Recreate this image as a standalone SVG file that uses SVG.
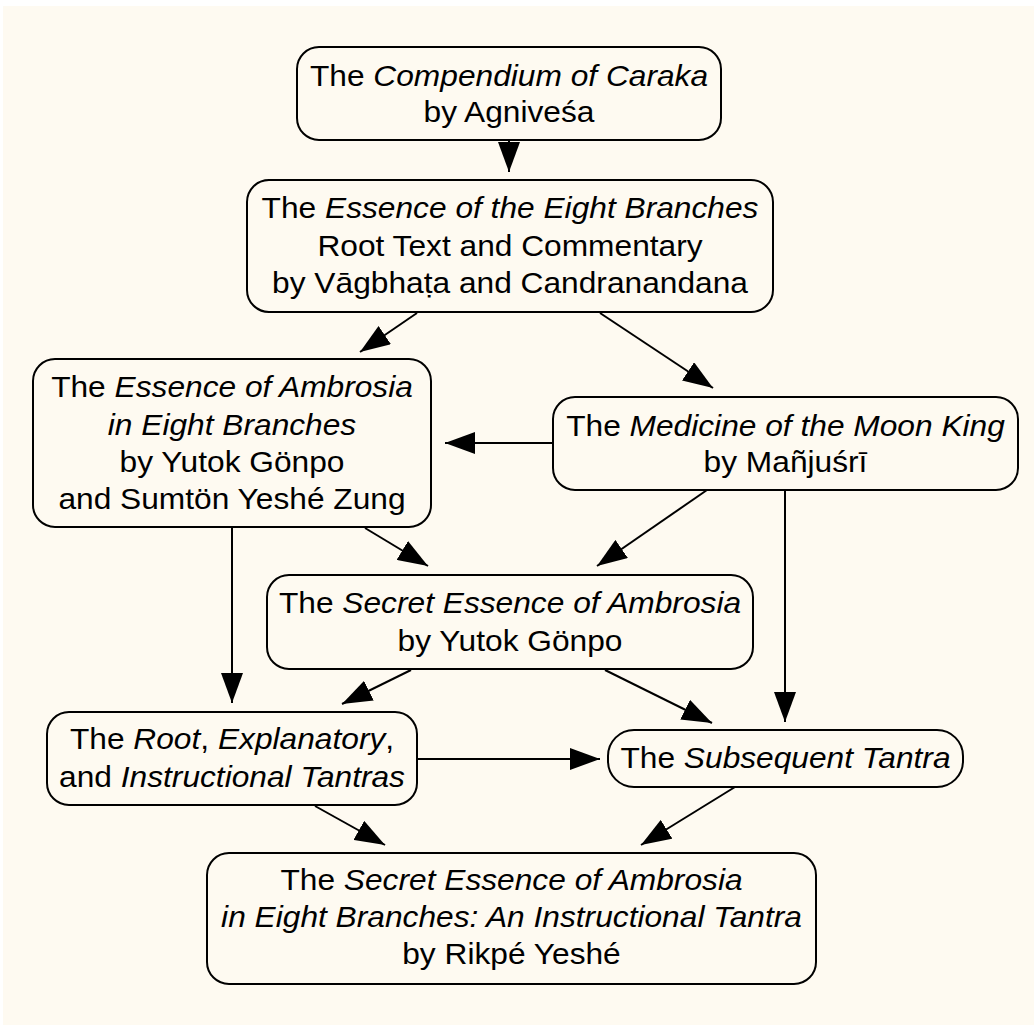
<svg xmlns="http://www.w3.org/2000/svg" width="1034" height="1025" viewBox="0 0 1034 1025">
  <style>
    .box { fill: none; stroke: #000; stroke-width: 2; }
    .t { font-family: "Liberation Sans", Arial, Helvetica, sans-serif; font-size: 29.5px; fill: #000; text-anchor: middle; }
    .i { font-style: italic; }
    .edge { fill: none; stroke: #000; stroke-width: 2; marker-end: url(#head); }
  </style>
  <defs>
    <marker id="head" markerUnits="userSpaceOnUse" markerWidth="30" markerHeight="22" refX="30" refY="11" orient="auto">
      <path d="M0,0 L30,11 L0,22 z" fill="#000"/>
    </marker>
  </defs>

  <!-- page background -->
  <rect x="3" y="6" width="1031" height="1019" fill="#FEFAF1"/>

  <!-- connectors -->
  <g id="connectors">
    <line class="edge" x1="509" y1="141" x2="509" y2="172"/>
    <line class="edge" x1="417" y1="313" x2="360" y2="352"/>
    <line class="edge" x1="600" y1="313" x2="713" y2="388"/>
    <line class="edge" x1="553" y1="443" x2="445" y2="443"/>
    <line class="edge" x1="232" y1="528" x2="232" y2="703"/>
    <line class="edge" x1="365" y1="528" x2="428" y2="566"/>
    <line class="edge" x1="707" y1="490" x2="597" y2="566"/>
    <line class="edge" x1="785" y1="490" x2="785" y2="722"/>
    <line class="edge" x1="411" y1="670" x2="342" y2="704"/>
    <line class="edge" x1="605" y1="670" x2="712" y2="723"/>
    <line class="edge" x1="417" y1="759" x2="600" y2="759"/>
    <line class="edge" x1="315" y1="806" x2="385" y2="845"/>
    <line class="edge" x1="735" y1="787" x2="641" y2="845"/>
  </g>

  <!-- Compendium of Caraka -->
  <g id="caraka">
    <rect class="box" x="297" y="47" width="424" height="93" rx="22"/>
    <g transform="translate(509,0) scale(1.075,1)">
      <text class="t" x="0" y="86">The <tspan class="i">Compendium of Caraka</tspan></text>
      <text class="t" x="0" y="122">by Agniveśa</text>
    </g>
  </g>

  <!-- Essence of the Eight Branches -->
  <g id="eight-branches">
    <rect class="box" x="247" y="180" width="526" height="132" rx="22"/>
    <g transform="translate(510,0) scale(1.075,1)">
      <text class="t" x="0" y="218">The <tspan class="i">Essence of the Eight Branches</tspan></text>
      <text class="t" x="0" y="256">Root Text and Commentary</text>
      <text class="t" x="0" y="293">by Vāgbhaṭa and Candranandana</text>
    </g>
  </g>

  <!-- Essence of Ambrosia in Eight Branches -->
  <g id="ambrosia-eight">
    <rect class="box" x="33" y="359" width="398" height="168" rx="22"/>
    <g transform="translate(232,0) scale(1.075,1)">
      <text class="t" x="0" y="397">The <tspan class="i">Essence of Ambrosia</tspan></text>
      <text class="t i" x="0" y="435">in Eight Branches</text>
      <text class="t" x="0" y="472">by Yutok Gönpo</text>
      <text class="t" x="0" y="509">and Sumtön Yeshé Zung</text>
    </g>
  </g>

  <!-- Medicine of the Moon King -->
  <g id="moon-king">
    <rect class="box" x="553" y="397" width="465" height="93" rx="22"/>
    <g transform="translate(785.5,0) scale(1.075,1)">
      <text class="t" x="0" y="436">The <tspan class="i">Medicine of the Moon King</tspan></text>
      <text class="t" x="0" y="472">by Mañjuśrī</text>
    </g>
  </g>

  <!-- Secret Essence of Ambrosia -->
  <g id="secret-essence">
    <rect class="box" x="267" y="575" width="486" height="94" rx="22"/>
    <g transform="translate(510,0) scale(1.075,1)">
      <text class="t" x="0" y="613">The <tspan class="i">Secret Essence of Ambrosia</tspan></text>
      <text class="t" x="0" y="651">by Yutok Gönpo</text>
    </g>
  </g>

  <!-- Root, Explanatory, and Instructional Tantras -->
  <g id="three-tantras">
    <rect class="box" x="47" y="712" width="370" height="93" rx="22"/>
    <g transform="translate(232,0) scale(1.075,1)">
      <text class="t" x="0" y="749">The <tspan class="i">Root</tspan>, <tspan class="i">Explanatory</tspan>,</text>
      <text class="t" x="0" y="787">and <tspan class="i">Instructional Tantras</tspan></text>
    </g>
  </g>

  <!-- Subsequent Tantra -->
  <g id="subsequent">
    <rect class="box" x="608" y="730" width="355" height="57" rx="26"/>
    <g transform="translate(785.5,0) scale(1.075,1)">
      <text class="t" x="0" y="768">The <tspan class="i">Subsequent Tantra</tspan></text>
    </g>
  </g>

  <!-- Secret Essence of Ambrosia in Eight Branches -->
  <g id="instructional-tantra">
    <rect class="box" x="207" y="853" width="609" height="131" rx="22"/>
    <g transform="translate(511.5,0) scale(1.075,1)">
      <text class="t" x="0" y="890">The <tspan class="i">Secret Essence of Ambrosia</tspan></text>
      <text class="t i" x="0" y="927">in Eight Branches: An Instructional Tantra</text>
      <text class="t" x="0" y="964">by Rikpé Yeshé</text>
    </g>
  </g>
</svg>
